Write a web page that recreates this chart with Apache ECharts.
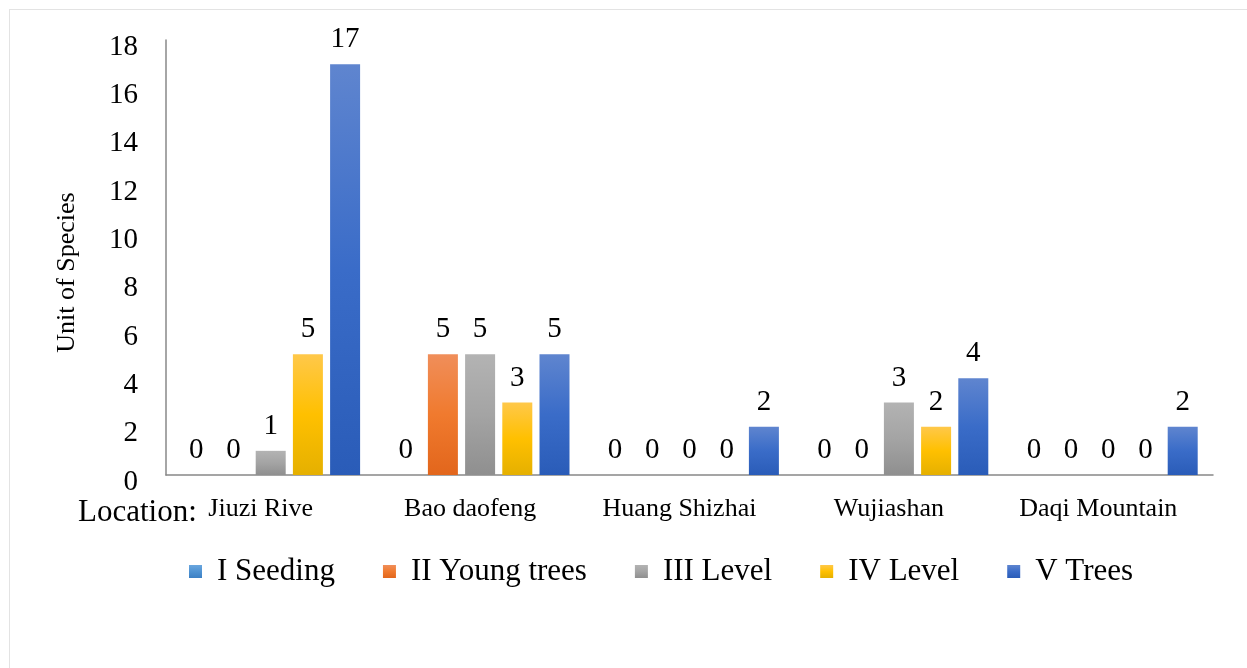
<!DOCTYPE html>
<html>
<head>
<meta charset="utf-8">
<script src="https://cdn.jsdelivr.net/npm/echarts@6/dist/echarts.min.js"></script>
<style>
  html, body { margin: 0; padding: 0; background: #fff; }
  #frame { position: absolute; left: 9px; top: 9px; width: 1250px; height: 670px; border: 1px solid #e3e3e3; }
  #myChart { position: absolute; left: 0; top: 0; width: 1247px; height: 668px; }
</style>
</head>
<body>
<div id="frame"></div>
<div id="myChart"></div>
<script>
// 数据
const locations = ['Jiuzi Rive', 'Bao daofeng', 'Huang Shizhai', 'Wujiashan', 'Daqi Mountain']
const seeding = [0, 0, 0, 0, 0]
const youngTrees = [0, 5, 0, 0, 0]
const level3 = [1, 5, 0, 3, 0]
const level4 = [5, 3, 0, 2, 0]
const trees = [17, 5, 2, 4, 2]
const seriesNames = ['I Seeding', 'II Young trees', 'III Level', 'IV Level', 'V Trees']

const font = 'Liberation Serif, Times New Roman, serif'

function grad(top, mid, bottom) {
  return new echarts.graphic.LinearGradient(0, 0, 0, 1, [
    { offset: 0, color: top },
    { offset: 0.5, color: mid },
    { offset: 1, color: bottom }
  ])
}
const colors = [
  grad('#6aa6de', '#4f93d3', '#3c80c4'),
  grad('#f08e5a', '#f07a2e', '#e2661c'),
  grad('#b3b3b3', '#a4a4a4', '#8f8f8f'),
  grad('#ffc84a', '#ffc000', '#e5b000'),
  grad('#5f85cf', '#3a6cc8', '#2a5cb8')
]

const myChart = echarts.init(document.getElementById('myChart'))
const dataList = [seeding, youngTrees, level3, level4, trees]

const option = {
  animation: false,
  title: {
    text: 'Location:',
    left: 73,
    top: 492,
    textStyle: { fontFamily: font, fontSize: 31, fontWeight: 'normal', color: '#000' }
  },
  legend: {
    data: seriesNames,
    top: 551,
    left: 184,
    itemWidth: 13,
    itemHeight: 13,
    itemGap: 48,
    icon: 'rect',
    textStyle: { fontFamily: font, fontSize: 31, color: '#000', padding: [0, 0, 0, 10] }
  },
  grid: { left: 166, right: 34, top: 40, bottom: 193 },
  xAxis: {
    type: 'category',
    data: locations,
    axisLine: { show: true, lineStyle: { color: '#888', width: 1.5 } },
    axisTick: { show: false },
    axisLabel: { fontFamily: font, fontSize: 26, color: '#000', margin: 21, padding: [0, 20, 0, 0] }
  },
  yAxis: {
    type: 'value',
    min: 0,
    max: 18,
    interval: 2,
    name: 'Unit of Species',
    nameLocation: 'middle',
    nameGap: 86,
    nameTextStyle: { fontFamily: font, fontSize: 26, color: '#000', padding: [0, 30, 0, 0] },
    axisLine: { show: true, lineStyle: { color: '#888', width: 1.5 } },
    axisTick: { show: false },
    splitLine: { show: false },
    axisLabel: { fontFamily: font, fontSize: 29, color: '#000', margin: 28, verticalAlign: 'top', lineHeight: 14 }
  },
  series: seriesNames.map((name, i) => ({
    name: name,
    type: 'bar',
    data: dataList[i],
    barWidth: 30,
    barGap: '24%',
    itemStyle: { color: colors[i] },
    label: {
      show: true,
      position: 'top',
      distance: 10,
      fontFamily: font,
      fontSize: 29,
      color: '#000'
    }
  }))
}
myChart.setOption(option)
</script>
</body>
</html>
